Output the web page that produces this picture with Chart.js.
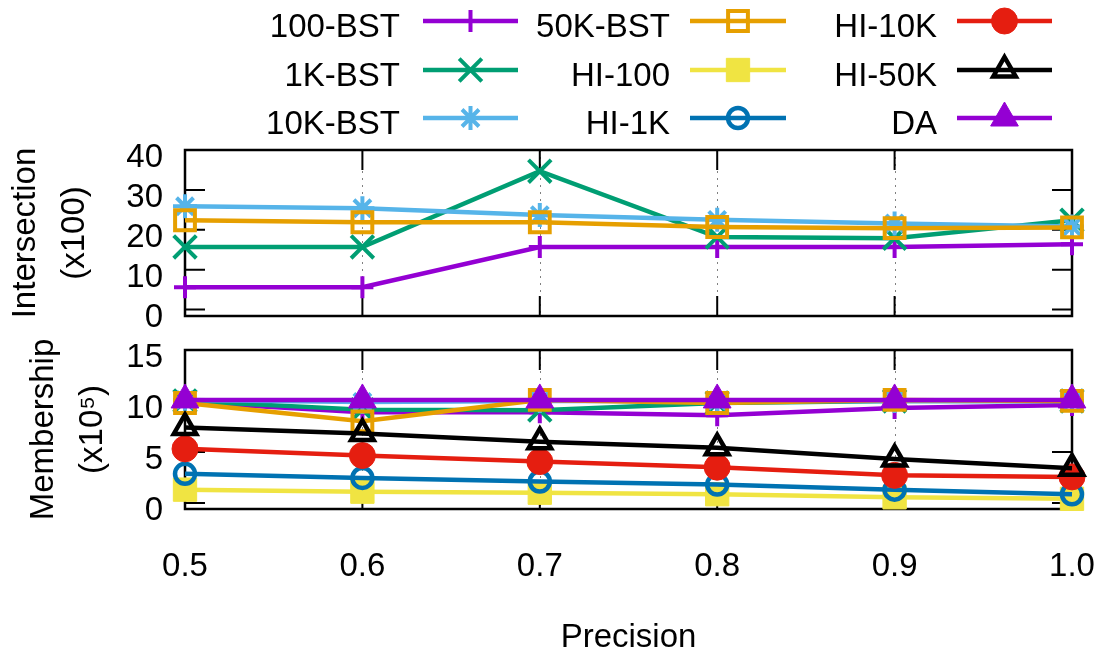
<!DOCTYPE html>
<html>
<head>
<meta charset="utf-8">
<script src="https://cdn.jsdelivr.net/npm/chart.js@4.4.1/dist/chart.umd.min.js"></script>
<style>
    html, body { margin: 0; padding: 0; background: #fff; }
    #wrap { position: relative; width: 1099px; height: 654px; }
    #top { position: absolute; left: 0; top: 0; width: 1099px; height: 340px; }
    #bottom { position: absolute; left: 0; top: 330px; width: 1099px; height: 324px; }
</style>
</head>
<body>
<div id="wrap">
    <div id="top"><canvas id="interChart"></canvas></div>
    <div id="bottom"><canvas id="memChart"></canvas></div>
</div>
<script>
// x values and tick labels
const precision = [0.5, 0.6, 0.7, 0.8, 0.9, 1.0];
const xTicks = [0.5, 0.6, 0.7, 0.8, 0.9, 1.0];
const interTicks = [0, 10, 20, 30, 40];
const memTicks = [0, 5, 10, 15];

const seriesNames = ['100-BST', '1K-BST', '10K-BST', '50K-BST', 'HI-100', 'HI-1K', 'HI-10K', 'HI-50K', 'DA'];

// Intersection (x100)
const inter100BST = [5.6, 5.6, 15.7, 15.7, 15.7, 16.4];
const inter1KBST = [15.7, 15.7, 34.7, 18.2, 17.9, 22.4];
const inter10KBST = [25.9, 25.4, 23.7, 22.5, 21.6, 20.8];
const inter50KBST = [22.4, 21.9, 21.9, 20.7, 20.4, 20.6];

// Membership (x10^5)
const mem100BST = [9.9, 8.9, 8.9, 8.6, 9.3, 9.6];
const mem1KBST = [10.0, 9.15, 9.1, 9.8, 10.0, 10.0];
const mem10KBST = [10.1, 9.9, 10.0, 10.0, 10.0, 10.0];
const mem50KBST = [9.8, 8.0, 10.1, 9.8, 10.1, 10.0];
const memHI100 = [1.3, 1.1, 1.0, 0.85, 0.55, 0.4];
const memHI1K = [2.85, 2.45, 2.1, 1.8, 1.3, 0.85];
const memHI10K = [5.3, 4.65, 4.05, 3.5, 2.7, 2.55];
const memHI50K = [7.4, 6.8, 6.0, 5.4, 4.3, 3.4];
const memDA = [10.1, 10.1, 10.1, 10.1, 10.1, 10.1];

// gnuplot-like line/point styles, same order as seriesNames
const styles = [
    { color: '#9400d3', point: 'cross', r: 11, bw: 4, fill: false },
    { color: '#009e73', point: 'crossRot', r: 16, bw: 4, fill: false },
    { color: '#56b4e9', point: 'star', r: 12, bw: 4, fill: false },
    { color: '#e69f00', point: 'rect', r: 14, bw: 4, fill: false },
    { color: '#f0e442', point: 'rect', r: 16.5, bw: 1, fill: true },
    { color: '#0072b2', point: 'circle', r: 10, bw: 4.5, fill: false },
    { color: '#e51e10', point: 'circle', r: 13, bw: 1, fill: true },
    { color: '#000000', point: 'triangle', r: 13, bw: 4.5, fill: false },
    { color: '#9400d3', point: 'triangle', r: 16, bw: 1, fill: true }
];

const FONT = '"Liberation Sans", Arial, Helvetica, sans-serif';
const FS = 33;
Chart.defaults.font.family = FONT;
Chart.defaults.font.size = FS;
Chart.defaults.color = '#000';

function makeDataset(i, values) {
    const s = styles[i];
    const bg = s.fill ? s.color : 'rgba(0,0,0,0)';
    return {
        label: seriesNames[i],
        data: values.map((v, k) => ({ x: precision[k], y: v })),
        borderColor: s.color,
        backgroundColor: bg,
        borderWidth: 4.5,
        pointStyle: s.point,
        pointRadius: s.r,
        pointHoverRadius: s.r,
        pointBorderWidth: s.bw,
        pointBorderColor: s.color,
        pointBackgroundColor: bg,
        tension: 0,
        clip: false,
        order: -i
    };
}

// border box, inward tics on all sides and dotted vertical grid
const framePlugin = {
    id: 'frame',
    beforeDatasetsDraw(chart) {
        const { ctx, chartArea: a, scales: { x, y } } = chart;
        const tic = 20;
        ctx.save();
        ctx.strokeStyle = '#808080';
        ctx.lineWidth = 1;
        ctx.setLineDash([2, 5]);
        x.ticks.forEach(t => {
            const px = Math.round(x.getPixelForValue(t.value)) + 0.5;
            ctx.beginPath();
            ctx.moveTo(px, a.top);
            ctx.lineTo(px, a.bottom);
            ctx.stroke();
        });
        ctx.setLineDash([]);
        ctx.strokeStyle = '#000';
        ctx.lineWidth = 2;
        ctx.beginPath();
        x.ticks.forEach(t => {
            const px = x.getPixelForValue(t.value);
            ctx.moveTo(px, a.bottom); ctx.lineTo(px, a.bottom - tic);
            ctx.moveTo(px, a.top); ctx.lineTo(px, a.top + tic);
        });
        y.ticks.forEach(t => {
            const py = y.getPixelForValue(t.value);
            ctx.moveTo(a.left, py); ctx.lineTo(a.left + tic, py);
            ctx.moveTo(a.right, py); ctx.lineTo(a.right - tic, py);
        });
        ctx.stroke();
        ctx.lineWidth = 2.5;
        ctx.strokeRect(a.left, a.top, a.right - a.left, a.bottom - a.top);
        ctx.restore();
    }
};

// three-column key: text right-aligned, then line sample with point
const legendPlugin = {
    id: 'keyBox',
    afterDraw(chart) {
        const ctx = chart.ctx;
        const cols = [
            { textRight: 400, x0: 423, x1: 518 },
            { textRight: 670, x0: 690, x1: 786 },
            { textRight: 937, x0: 957, x1: 1052 }
        ];
        const rows = [21, 70, 118];
        ctx.save();
        seriesNames.forEach((name, i) => {
            const c = cols[Math.floor(i / 3)];
            const yy = rows[i % 3];
            const s = styles[i];
            ctx.fillStyle = '#000';
            ctx.font = FS + 'px ' + FONT;
            ctx.textAlign = 'right';
            ctx.textBaseline = 'middle';
            ctx.fillText(name, c.textRight, yy + 7);
            ctx.strokeStyle = s.color;
            ctx.lineWidth = 4.5;
            ctx.beginPath();
            ctx.moveTo(c.x0, yy);
            ctx.lineTo(c.x1, yy);
            ctx.stroke();
            ctx.lineWidth = s.bw;
            ctx.fillStyle = s.fill ? s.color : 'rgba(0,0,0,0)';
            if (Chart.helpers && Chart.helpers.drawPoint) {
                Chart.helpers.drawPoint(ctx, { pointStyle: s.point, radius: s.r, borderWidth: s.bw, rotation: 0 }, (c.x0 + c.x1) / 2, yy);
            }
        });
        ctx.restore();
    }
};

function yScale(min, max, tickList, titleText, titlePad) {
    return {
        min: min,
        max: max,
        afterBuildTicks: s => { s.ticks = tickList.map(v => ({ value: v })); },
        afterFit: s => { s.width = 185; s.paddingTop = 0; s.paddingBottom = 0; },
        grid: { display: false, drawTicks: false },
        border: { display: false },
        ticks: { padding: 22, labelOffset: 8, autoSkip: false, color: '#000', font: { size: FS } },
        title: {
            display: true,
            text: titleText,
            color: '#000',
            font: { size: FS, lineHeight: 1.5 },
            padding: { top: titlePad, bottom: 0 }
        }
    };
}

function xScale(showLabels) {
    return {
        type: 'linear',
        min: 0.5,
        max: 1.0,
        afterBuildTicks: s => { s.ticks = xTicks.map(v => ({ value: v })); },
        afterFit: s => { s.height = showLabels ? 145 : 0; s.paddingLeft = 0; s.paddingRight = 0; },
        grid: { display: false, drawTicks: false },
        border: { display: false },
        ticks: {
            display: showLabels,
            padding: 38,
            autoSkip: false,
            color: '#000',
            font: { size: FS },
            maxRotation: 0,
            callback: v => Number(v).toFixed(1)
        },
        title: {
            display: showLabels,
            text: 'Precision',
            color: '#000',
            font: { size: FS, lineHeight: 1.0 },
            padding: { top: 0, bottom: 0 }
        }
    };
}

const commonOptions = {
    responsive: true,
    maintainAspectRatio: false,
    animation: false,
    events: [],
    plugins: { legend: { display: false }, tooltip: { enabled: false } }
};

const interChart = new Chart(document.getElementById('interChart'), {
    type: 'line',
    data: {
        datasets: [
            makeDataset(0, inter100BST),
            makeDataset(1, inter1KBST),
            makeDataset(2, inter10KBST),
            makeDataset(3, inter50KBST)
        ]
    },
    options: {
        ...commonOptions,
        layout: { padding: { left: 0, right: 27, top: 150, bottom: 24 } },
        scales: {
            x: xScale(false),
            y: yScale(-1.6, 40, interTicks, ['Intersection', '(x100)'], 1)
        }
    },
    plugins: [framePlugin, legendPlugin]
});

const memChart = new Chart(document.getElementById('memChart'), {
    type: 'line',
    data: {
        datasets: [
            makeDataset(0, mem100BST),
            makeDataset(1, mem1KBST),
            makeDataset(2, mem10KBST),
            makeDataset(3, mem50KBST),
            makeDataset(4, memHI100),
            makeDataset(5, memHI1K),
            makeDataset(6, memHI10K),
            makeDataset(7, memHI50K),
            makeDataset(8, memDA)
        ]
    },
    options: {
        ...commonOptions,
        layout: { padding: { left: 0, right: 27, top: 14, bottom: 0 } },
        scales: {
            x: xScale(true),
            y: yScale(-0.6, 15, memTicks, ['Membership', '(x10\u2075)'], 19)
        }
    },
    plugins: [framePlugin]
});
</script>
</body>
</html>
